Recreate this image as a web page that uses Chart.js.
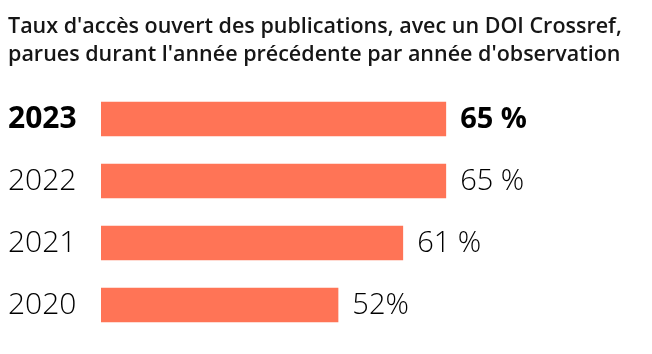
<!DOCTYPE html>
<html lang="fr">
<head>
  <meta charset="UTF-8">
  <title>Taux d'accès ouvert</title>
  <script src="https://cdn.jsdelivr.net/npm/chart.js@4.4.1/dist/chart.umd.min.js"></script>
  <style>
    html, body { margin: 0; padding: 0; background: #fff; }
    .wrap { width: 652px; height: 354px; }
  </style>
</head>
<body>
<div class="wrap"><canvas id="oaChart"></canvas></div>
<script>
// years shown on the left, latest first
const years = ['2023', '2022', '2021', '2020'];
// bar lengths as drawn in the picture (in % units)
const barValues = [65, 65, 56.9, 44.7];
// labels printed at the end of each bar
const valueLabels = ['65 %', '65 %', '61 %', '52%'];
const titleLines = [
  "Taux d'accès ouvert des publications, avec un DOI Crossref,",
  "parues durant l'année précédente par année d'observation"
];

const FONT = "'Open Sans', 'Noto Sans', sans-serif";

const endLabels = {
  id: 'endLabels',
  afterDatasetsDraw(chart) {
    const ctx = chart.ctx;
    const meta = chart.getDatasetMeta(0);
    ctx.save();
    ctx.fillStyle = '#000';
    ctx.textBaseline = 'middle';
    ctx.textAlign = 'left';
    meta.data.forEach((bar, i) => {
      ctx.font = (i === 0 ? '700 ' : '300 ') + '29px ' + FONT;
      ctx.fillText(valueLabels[i], bar.x + 14, bar.y + 1);
    });
    ctx.restore();
  }
};

new Chart(document.getElementById('oaChart'), {
  type: 'bar',
  data: {
    labels: years,
    datasets: [{
      data: barValues,
      backgroundColor: '#ff7456',
      borderWidth: 0,
      barPercentage: 0.56,
      categoryPercentage: 1
    }]
  },
  options: {
    indexAxis: 'y',
    responsive: true,
    maintainAspectRatio: false,
    animation: false,
    layout: { padding: { left: 8, right: 20, top: 0, bottom: 13 } },
    plugins: {
      legend: { display: false },
      tooltip: { enabled: false },
      title: {
        display: true,
        text: titleLines,
        align: 'start',
        color: '#161616',
        font: { family: FONT, size: 21.5, weight: '600', lineHeight: 28 / 21.5 },
        padding: { top: 13, bottom: 19 }
      }
    },
    scales: {
      x: { display: false, min: 0, max: 100 },
      y: {
        grid: { display: false },
        border: { display: false },
        afterFit(scale) { scale.width = 93; },
        ticks: {
          crossAlign: 'far',
          color: '#000',
          padding: 0,
          font: (c) => ({ family: FONT, size: 30, weight: c.index === 0 ? '700' : '300' })
        }
      }
    }
  },
  plugins: [endLabels]
});
</script>
</body>
</html>
